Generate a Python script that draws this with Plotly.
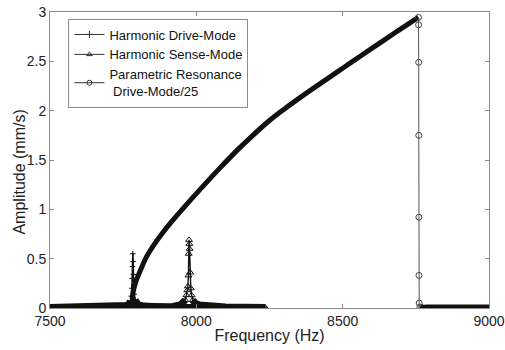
import numpy as np
import plotly.graph_objects as go

# Harmonic drive-mode response (mm/s)
drive_freq = [7500, 7600, 7700, 7740, 7760, 7770, 7775, 7778, 7780, 7781, 7782, 7783,
              7784, 7785, 7786, 7788, 7791, 7795, 7800, 7820, 7850, 7900, 8000, 8100, 8235]
drive_amp = [0.005, 0.006, 0.01, 0.015, 0.025, 0.04, 0.07, 0.12, 0.2, 0.3, 0.42, 0.55,
             0.47, 0.34, 0.24, 0.14, 0.08, 0.05, 0.035, 0.02, 0.012, 0.008, 0.005, 0.004, 0.003]

# Harmonic sense-mode response (mm/s)
sense_freq = [7500, 7700, 7850, 7920, 7945, 7955, 7962, 7966, 7969, 7971, 7973, 7974,
              7975, 7976, 7977, 7979, 7981, 7984, 7988, 7995, 8010, 8050, 8100, 8235]
sense_amp = [0.002, 0.004, 0.008, 0.015, 0.03, 0.05, 0.08, 0.13, 0.18, 0.22, 0.33, 0.55,
             0.69, 0.65, 0.60, 0.36, 0.20, 0.13, 0.08, 0.05, 0.03, 0.015, 0.01, 0.006]

# Parametric resonance drive-mode response, scaled by 1/25 (mm/s)
param_freq = [7779, 7782, 7787, 7796, 7810, 7830, 7855, 7887, 7920, 7967, 8020, 8081,
              8140, 8195, 8250, 8300, 8370, 8446, 8500, 8560, 8620, 8680, 8730, 8759,
              8759.5, 8759.8, 8760.1, 8760.4, 8760.7, 8761.5, 8764, 8770, 8800, 8850,
              8900, 8950, 9000]
param_amp = [0.0, 0.12, 0.20, 0.29, 0.39, 0.52, 0.64, 0.77, 0.89, 1.05, 1.225, 1.42,
             1.60, 1.755, 1.90, 2.015, 2.165, 2.32, 2.43, 2.552, 2.672, 2.792, 2.89, 2.945,
             2.87, 2.49, 1.75, 0.92, 0.33, 0.05, 0.01, 0.0, 0.0, 0.0,
             0.0, 0.0, 0.0]

x_ticks = [7500, 8000, 8500, 9000]
y_ticks = [0, 0.5, 1, 1.5, 2, 2.5, 3]

FONT = "Liberation Sans, Arial, sans-serif"
INK = "#111111"
FRAME = "#8c8c8c"

fig = go.Figure()


def low_part(amp, limit):
    return [a if a < limit else None for a in amp]


# dense low-amplitude sampling renders as a heavy band along the baseline
for f, a in ((drive_freq, drive_amp), (sense_freq, sense_amp)):
    fig.add_trace(go.Scatter(x=f, y=low_part(a, 0.1), mode="lines",
                             line=dict(color=INK, width=7), connectgaps=False,
                             showlegend=False, hoverinfo="skip"))

# resonance peaks
fig.add_trace(go.Scatter(x=drive_freq, y=drive_amp, mode="lines+markers",
                         line=dict(color=INK, width=1.6),
                         marker=dict(symbol="cross-thin", size=4,
                                     line=dict(color=INK, width=1)),
                         showlegend=False))
fig.add_trace(go.Scatter(x=sense_freq, y=sense_amp, mode="lines+markers",
                         line=dict(color=INK, width=1.4),
                         marker=dict(symbol="triangle-up-open", size=6, color=INK,
                                     line=dict(width=1)),
                         showlegend=False))

# parametric branch: continuous rise, sudden jump down, then zero tail
p_f = np.array(param_freq)
p_a = np.array(param_amp)
top = int(np.argmax(p_a))
rise = slice(0, top + 1)
jump = slice(top, len(p_a) - 5)
tail = slice(len(p_a) - 7, len(p_a))

fig.add_trace(go.Scatter(x=p_f[rise], y=p_a[rise], mode="lines", line_shape="spline",
                         line=dict(color=INK, width=5, smoothing=1), showlegend=False,
                         hoverinfo="skip"))
fig.add_trace(go.Scatter(x=p_f[jump], y=p_a[jump], mode="lines+markers",
                         line=dict(color="#555555", width=1),
                         marker=dict(symbol="circle-open", size=6, color="#444444",
                                     line=dict(width=1)),
                         showlegend=False))
fig.add_trace(go.Scatter(x=p_f[tail], y=p_a[tail], mode="lines", line_shape="spline",
                         line=dict(color=INK, width=7), showlegend=False,
                         hoverinfo="skip"))

# legend entries
fig.add_trace(go.Scatter(x=[None], y=[None], mode="lines+markers",
                         name="Harmonic Drive-Mode",
                         line=dict(color="#333333", width=1),
                         marker=dict(symbol="cross-thin", size=5,
                                     line=dict(color="#333333", width=1))))
fig.add_trace(go.Scatter(x=[None], y=[None], mode="lines+markers",
                         name="Harmonic Sense-Mode",
                         line=dict(color="#333333", width=1),
                         marker=dict(symbol="triangle-up-open", size=5, color="#333333")))
fig.add_trace(go.Scatter(x=[None], y=[None], mode="lines+markers",
                         name="Parametric Resonance<br>\u00a0Drive-Mode/25",
                         line=dict(color="#333333", width=1),
                         marker=dict(symbol="circle-open", size=5, color="#333333")))

axis_common = dict(showline=True, linecolor=FRAME, linewidth=1, mirror="ticks",
                   ticks="inside", ticklen=4, tickcolor=FRAME, showgrid=False,
                   zeroline=False, automargin=False,
                   tickfont=dict(family=FONT, size=14, color="#222222"))

fig.update_layout(
    width=505, height=350,
    margin=dict(l=50, r=16, t=12, b=42),
    paper_bgcolor="white", plot_bgcolor="white",
    font=dict(family=FONT, size=14, color="#222222"),
    xaxis=dict(range=[7500, 9000], tickvals=x_ticks,
               title=dict(text="Frequency (Hz)", font=dict(family=FONT, size=16),
                          standoff=2),
               **axis_common),
    yaxis=dict(range=[0, 3], tickvals=y_ticks, ticktext=[str(v) for v in y_ticks],
               **axis_common),
    annotations=[dict(text="Amplitude (mm/s)", textangle=-90,
                      xref="paper", yref="paper", x=-0.069, y=0.46,
                      xanchor="center", yanchor="middle", showarrow=False,
                      font=dict(family=FONT, size=16, color="#222222"))],
    legend=dict(x=0.042, y=0.978, xanchor="left", yanchor="top",
                bgcolor="white", bordercolor=FRAME, borderwidth=1,
                font=dict(family=FONT, size=13, color="#111111"),
                tracegroupgap=0, itemwidth=30),
    showlegend=True,
)

fig.write_html("out.html")
